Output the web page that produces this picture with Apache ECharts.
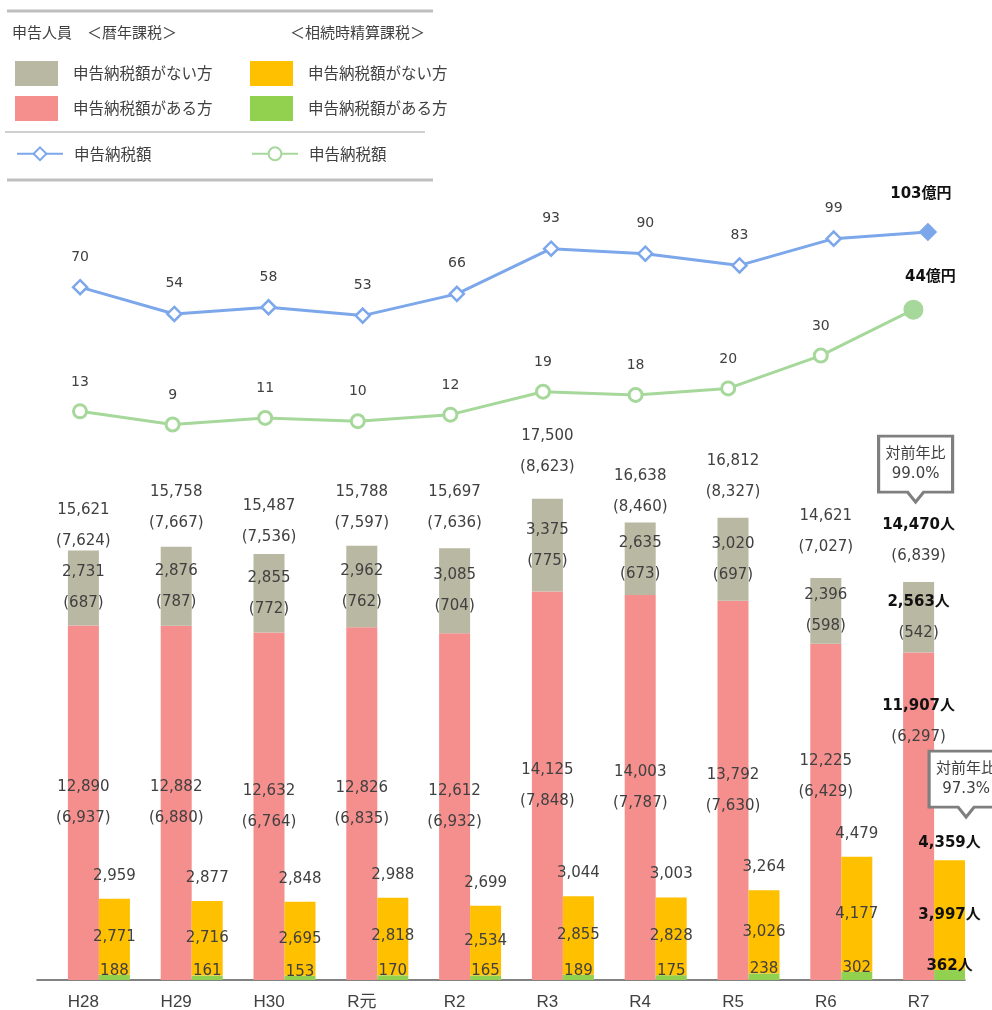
<!DOCTYPE html>
<html><head><meta charset="utf-8">
<script src="https://cdn.jsdelivr.net/npm/echarts@6/dist/echarts.min.js"></script>
<style>html,body{margin:0;padding:0;background:#fff}#c{width:992px;height:1010px}</style>
</head><body><div id="c"></div>
<script>
// ---------- data ----------
const categories  = ['H28','H29','H30','R元','R2','R3','R4','R5','R6','R7'];
const calNoTax    = [2731,2876,2855,2962,3085,3375,2635,3020,2396,2563];   // 暦年課税 申告納税額がない方
const calNoTaxSub = [687,787,772,762,704,775,673,697,598,542];
const calTax      = [12890,12882,12632,12826,12612,14125,14003,13792,12225,11907]; // 暦年課税 申告納税額がある方
const calTaxSub   = [6937,6880,6764,6835,6932,7848,7787,7630,6429,6297];
const setNoTax    = [2771,2716,2695,2818,2534,2855,2828,3026,4177,3997];   // 相続時精算課税 ない方
const setTax      = [188,161,153,170,165,189,175,238,302,362];             // 相続時精算課税 ある方
const calAmount   = [70,54,58,53,66,93,90,83,99,103];   // 億円
const setAmount   = [13,9,11,10,12,19,18,20,30,44];     // 億円
const yoyCal = '99.0%';
const yoySet = '97.3%';

// ---------- derived ----------
const n = categories.length, last = n - 1;
const calTotal    = calNoTax.map((v,i)=>v+calTax[i]);
const calTotalSub = calNoTaxSub.map((v,i)=>v+calTaxSub[i]);
const setTotal    = setNoTax.map((v,i)=>v+setTax[i]);

// ---------- style ----------
const NUM = "'DejaVu Sans','Noto Sans CJK JP',sans-serif";
const JP  = "'Noto Sans CJK JP',sans-serif";
const TXT = '#404040', BOLD = '#111111';
const C_GRAY='#b9b8a3', C_RED='#f48f8d', C_ORANGE='#ffc000', C_GREEN='#92d050';
const C_BLUE_LINE='#7ca7ea', C_GREEN_LINE='#a6d89b';
const totalNudge = {0:13,1:-2,2:5,3:-1,4:-3,5:-10,6:7,7:-4,8:-9,9:-4};
const redNudge   = {8:-35,9:-95};
const orangeTopNudge = {9:6};

const fmt = v => v.toLocaleString('en-US');
const rich2 = {
  n:{fontFamily:NUM,fontSize:15,color:TXT,lineHeight:31},
  b:{fontFamily:NUM,fontSize:15,fontWeight:'bold',color:BOLD,lineHeight:31}
};
const rich1 = {
  n:{fontFamily:NUM,fontSize:15,color:TXT,lineHeight:16},
  b:{fontFamily:NUM,fontSize:15,fontWeight:'bold',color:BOLD,lineHeight:16}
};
const one = (v,i) => i===last ? `{b|${fmt(v)}人}` : `{n|${fmt(v)}}`;
const two = (v,s,i) => (i===last ? `{b|${fmt(v)}人}` : `{n|${fmt(v)}}`) + `\n{n|(${fmt(s)})}`;
const withNudge = (arr, nudge) => arr.map((v,i)=> nudge[i] ? {value:v, label:{offset:[0,nudge[i]]}} : v);
const zeros = nudge => categories.map((c,i)=> nudge && nudge[i] ? {value:0,label:{offset:[0,nudge[i]]}} : 0);

const NAMES = {
  g:'暦年:申告納税額がない方', r:'暦年:申告納税額がある方',
  o:'相続時:申告納税額がない方', e:'相続時:申告納税額がある方',
  bl:'暦年:申告納税額', gl:'相続時:申告納税額'
};
const legendFmt = name => name.split(':')[1];
const calloutPath = 'path://M0 0H74V56H45L37 66L29 56H0Z';
const callout = (text) => ({
  symbol: calloutPath, symbolSize:[74,66], symbolKeepAspect:false,
  itemStyle:{color:'#fff',borderColor:'#7f7f7f',borderWidth:3},
  label:{show:true,position:'inside',offset:[0,-5],formatter:text,fontFamily:NUM,fontSize:15,lineHeight:20,color:TXT}
});

const barCommon = {type:'bar', xAxisIndex:0, yAxisIndex:0, barWidth:31, barGap:'0%'};
const legendText = pad => ({fontFamily:JP,fontSize:15.5,color:TXT,padding:[0,0,0,pad]});
const legendCommon = {orient:'vertical', selectedMode:false, formatter:legendFmt, padding:0};

const chart = echarts.init(document.getElementById('c'), null, {renderer:'canvas'});
chart.setOption({
  animation:false,
  backgroundColor:'#fff',
  title:[
    {text:'申告人員　＜暦年課税＞', left:12, top:25, padding:0, textStyle:{fontFamily:JP,fontSize:15,fontWeight:'normal',color:TXT}},
    {text:'＜相続時精算課税＞', left:290, top:25, padding:0, textStyle:{fontFamily:JP,fontSize:15,fontWeight:'normal',color:TXT}}
  ],
  graphic:[
    {type:'line',shape:{x1:7,y1:11,x2:433,y2:11},style:{stroke:'#bfbfbf',lineWidth:3}},
    {type:'line',shape:{x1:5,y1:132,x2:425,y2:132},style:{stroke:'#bfbfbf',lineWidth:1.5}},
    {type:'line',shape:{x1:7,y1:180,x2:433,y2:180},style:{stroke:'#bfbfbf',lineWidth:3}}
  ],
  legend:[
    Object.assign({left:15,top:61,itemWidth:43,itemHeight:25,itemGap:10,icon:'rect',data:[NAMES.g,NAMES.r],textStyle:legendText(10)}, legendCommon),
    Object.assign({left:250,top:61,itemWidth:43,itemHeight:25,itemGap:10,icon:'rect',data:[NAMES.o,NAMES.e],textStyle:legendText(10)}, legendCommon),
    Object.assign({left:16,top:146,itemWidth:46,itemHeight:16,data:[NAMES.bl],textStyle:legendText(6)}, legendCommon),
    Object.assign({left:251,top:146,itemWidth:46,itemHeight:16,data:[NAMES.gl],textStyle:legendText(6)}, legendCommon)
  ],
  grid:[
    {left:37, right:27, top:430, bottom:30, outerBoundsMode:'none'},
    {left:33, right:17, top:203.5, bottom:605.7, outerBoundsMode:'none'},
    {left:33.7, right:32.3, top:257.2, bottom:556, outerBoundsMode:'none'}
  ],
  xAxis:[
    {type:'category', gridIndex:0, data:categories,
     axisLine:{show:true,lineStyle:{color:'#595959',width:1.5}}, axisTick:{show:false},
     axisLabel:{fontFamily:"'Liberation Sans','Noto Sans CJK JP',sans-serif",fontSize:17,color:TXT,margin:14}},
    {type:'category', gridIndex:1, data:categories, show:false},
    {type:'category', gridIndex:2, data:categories, show:false}
  ],
  yAxis:[
    {type:'value', gridIndex:0, min:0, max:20000, show:false, splitLine:{show:false}},
    {type:'value', gridIndex:1, min:0, max:120, show:false, splitLine:{show:false}},
    {type:'value', gridIndex:2, min:0, max:60, show:false, splitLine:{show:false}}
  ],
  series:[
    // spacer so that the 暦年 stack sits on the category centre
    Object.assign({}, barCommon, {name:'spacer', stack:'p', silent:true, data:zeros(), itemStyle:{color:'rgba(0,0,0,0)'}}),
    // 暦年課税
    Object.assign({}, barCommon, {name:NAMES.r, stack:'a', itemStyle:{color:C_RED},
      data:withNudge(calTax, redNudge),
      label:{show:true, position:'inside', rich:rich2, formatter:p=>two(calTax[p.dataIndex], calTaxSub[p.dataIndex], p.dataIndex)}}),
    Object.assign({}, barCommon, {name:NAMES.g, stack:'a', itemStyle:{color:C_GRAY},
      data:calNoTax,
      label:{show:true, position:'inside', rich:rich2, formatter:p=>two(calNoTax[p.dataIndex], calNoTaxSub[p.dataIndex], p.dataIndex)}}),
    Object.assign({}, barCommon, {name:'calTotal', stack:'a', silent:true, itemStyle:{color:'rgba(0,0,0,0)'},
      data:zeros(totalNudge),
      label:{show:true, position:'top', distance:6.5, rich:rich2, formatter:p=>two(calTotal[p.dataIndex], calTotalSub[p.dataIndex], p.dataIndex)},
      markPoint:{silent:true, data:[Object.assign({coord:[categories[last], calTotal[last]], symbolOffset:[-3,-113]}, callout('対前年比\n'+yoyCal))]}}),
    // 相続時精算課税
    Object.assign({}, barCommon, {name:NAMES.e, stack:'b', itemStyle:{color:C_GREEN},
      data:setTax,
      label:{show:true, position:'top', distance:-4, rich:rich1, formatter:p=>one(setTax[p.dataIndex], p.dataIndex)}}),
    Object.assign({}, barCommon, {name:NAMES.o, stack:'b', itemStyle:{color:C_ORANGE},
      data:setNoTax,
      label:{show:true, position:'inside', rich:rich1, formatter:p=>one(setNoTax[p.dataIndex], p.dataIndex)}}),
    Object.assign({}, barCommon, {name:'setTotal', stack:'b', silent:true, itemStyle:{color:'rgba(0,0,0,0)'},
      data:zeros(orangeTopNudge),
      label:{show:true, position:'top', distance:15, rich:rich1, formatter:p=>one(setTotal[p.dataIndex], p.dataIndex)},
      markPoint:{silent:true, data:[Object.assign({coord:[categories[last], setTotal[last]], symbolOffset:[16.5,-76]}, callout('対前年比\n'+yoySet))]}}),
    // lines
    {type:'line', name:NAMES.bl, xAxisIndex:1, yAxisIndex:1, symbol:'diamond', symbolSize:14,
     lineStyle:{color:C_BLUE_LINE,width:3}, itemStyle:{color:'#fff',borderColor:C_BLUE_LINE,borderWidth:2.5},
     label:{show:true, position:'top', distance:15, fontFamily:NUM, fontSize:14, color:TXT},
     data:calAmount.map((v,i)=> i===last ? {value:v, symbolSize:15, itemStyle:{color:C_BLUE_LINE},
        label:{formatter:'{b|'+v+'億円}', offset:[-7,-6.5], rich:{b:{fontFamily:NUM,fontSize:15,fontWeight:'bold',color:BOLD}}}} : v)},
    {type:'line', name:NAMES.gl, xAxisIndex:2, yAxisIndex:2, symbol:'circle', symbolSize:13,
     lineStyle:{color:C_GREEN_LINE,width:3}, itemStyle:{color:'#fff',borderColor:C_GREEN_LINE,borderWidth:3},
     label:{show:true, position:'top', distance:14.5, fontFamily:NUM, fontSize:14, color:TXT},
     data:setAmount.map((v,i)=> i===last ? {value:v, symbolSize:17, itemStyle:{color:C_GREEN_LINE},
        label:{formatter:'{b|'+v+'億円}', offset:[17,-1], rich:{b:{fontFamily:NUM,fontSize:15,fontWeight:'bold',color:BOLD}}}} : v)}
  ]
});
</script></body></html>
